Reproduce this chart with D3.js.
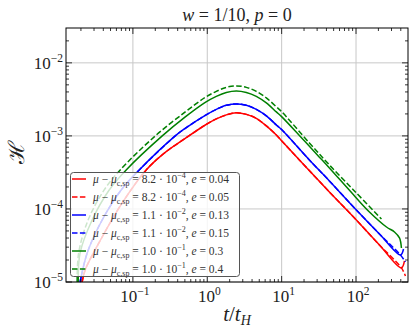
<!DOCTYPE html>
<html lang="en">
<head>
<meta charset="UTF-8">
<title>H vs t/tH</title>
<script src="https://d3js.org/d3.v7.min.js"></script>
<style>
  body { margin: 0; background: #fff; }
</style>
</head>
<body>
<script>
// values (t/t_H, H)
const redT  = [0.0208, 0.0228, 0.0386, 0.0718, 0.151, 0.272, 0.506, 0.94, 1.322, 1.802, 2.456, 3.349, 4.565, 6.225, 8.487, 9.908, 17.31, 43.85, 98.1, 206.5, 408, 448]
const redH  = [1.0e-5, 1.46e-5, 4.13e-5, 1.21e-4, 3.42e-4, 5.94e-4, 9.24e-4, 1.41e-3, 1.71e-3, 1.94e-3, 2.07e-3, 1.97e-3, 1.74e-3, 1.37e-3, 1.03e-3, 8.68e-4, 4.69e-4, 1.71e-4, 7.29e-5, 3.21e-5, 1.56e-5, 1.94e-5]
const redDT = [0.0208, 0.0228, 0.0386, 0.0718, 0.151, 0.272, 0.506, 0.94, 1.322, 1.802, 2.456, 3.349, 4.565, 6.225, 8.487, 9.908, 17.31, 43.85, 98.1, 206.5, 408, 462]
const redDH = [1.0e-5, 1.46e-5, 4.13e-5, 1.21e-4, 3.42e-4, 5.94e-4, 9.24e-4, 1.41e-3, 1.71e-3, 1.94e-3, 2.07e-3, 1.97e-3, 1.74e-3, 1.37e-3, 1.03e-3, 8.68e-4, 4.69e-4, 1.71e-4, 7.29e-5, 3.21e-5, 1.56e-5, 1.21e-5]

const blueT  = [0.0195, 0.0243, 0.0386, 0.0696, 0.1216, 0.371, 0.506, 0.94, 1.322, 1.802, 2.456, 3.349, 4.565, 6.225, 8.487, 9.908, 23.6, 43.85, 98.1, 206.5, 396, 435]
const blueH  = [1.0e-5, 2.50e-5, 7.06e-5, 1.82e-4, 3.42e-4, 1.0e-3, 1.27e-3, 1.91e-3, 2.31e-3, 2.62e-3, 2.74e-3, 2.62e-3, 2.31e-3, 1.88e-3, 1.41e-3, 1.23e-3, 4.69e-4, 2.42e-4, 1.0e-4, 4.55e-5, 2.34e-5, 2.83e-5]
const blueDT = [0.0195, 0.0243, 0.0386, 0.0696, 0.1216, 0.371, 0.506, 0.94, 1.322, 1.802, 2.456, 3.349, 4.565, 6.225, 8.487, 9.908, 23.6, 43.85, 98.1, 206.5, 396, 462]
const blueDH = [1.0e-5, 2.50e-5, 7.06e-5, 1.82e-4, 3.42e-4, 1.0e-3, 1.27e-3, 1.91e-3, 2.31e-3, 2.62e-3, 2.74e-3, 2.62e-3, 2.31e-3, 1.88e-3, 1.41e-3, 1.23e-3, 4.69e-4, 2.42e-4, 1.0e-4, 4.55e-5, 2.34e-5, 1.88e-5]

const greenT  = [0.0184, 0.0195, 0.0283, 0.048, 0.0812, 0.248, 0.506, 0.94, 1.322, 1.802, 2.456, 3.349, 4.565, 6.225, 8.487, 9.908, 17.31, 30.23, 43.85, 98.1, 151.5, 257, 329, 384, 408]
const greenH  = [1.0e-5, 2.50e-5, 7.06e-5, 1.82e-4, 3.42e-4, 1.0e-3, 1.82e-3, 2.88e-3, 3.48e-3, 3.94e-3, 4.13e-3, 3.94e-3, 3.48e-3, 2.83e-3, 2.13e-3, 1.85e-3, 1.016e-3, 5.49e-4, 3.64e-4, 1.46e-4, 9.1e-5, 5.66e-5, 4.84e-5, 4.01e-5, 2.92e-5]
const greenDT = [0.0178, 0.01865, 0.025, 0.0411, 0.0675, 0.200, 0.506, 0.94, 1.322, 1.802, 2.456, 3.349, 4.565, 6.225, 8.487, 9.908, 23.6, 43.85, 98.1, 219.8]
const greenDH = [1.0e-5, 2.50e-5, 7.06e-5, 1.82e-4, 3.42e-4, 1.0e-3, 2.13e-3, 3.37e-3, 4.07e-3, 4.62e-3, 4.84e-3, 4.62e-3, 4.07e-3, 3.32e-3, 2.50e-3, 2.17e-3, 8.0e-4, 4.0e-4, 1.71e-4, 7.29e-5]

const labelMant = ["8.2", "8.2", "1.1", "1.1", "1.0", "1.0"]
const labelExp  = ["−4", "−4", "−2", "−2", "−1", "−1"]
const labelE    = ["0.04", "0.05", "0.13", "0.15", "0.3", "0.4"]

const xMajor = [0.1, 1, 10, 100]
const xMajorExp = ["−1", "0", "1", "2"]
const yMajor = [1e-5, 1e-4, 1e-3, 1e-2]
const yMajorExp = ["−5", "−4", "−3", "−2"]

const width = 415
const height = 333
const pL = 66, pR = 408, pT = 28, pB = 282

const series = [
  { t: redT,    h: redH,    color: "#ff0000", dash: null },
  { t: redDT,   h: redDH,   color: "#ff0000", dash: "5.5,2.4" },
  { t: blueT,   h: blueH,   color: "#0000ff", dash: null },
  { t: blueDT,  h: blueDH,  color: "#0000ff", dash: "5.5,2.4" },
  { t: greenT,  h: greenH,  color: "#008000", dash: null },
  { t: greenDT, h: greenDH, color: "#008000", dash: "5.5,2.4" }
]

const svg = d3.select("body").append("svg")
  .attr("width", width)
  .attr("height", height)
  .attr("font-family", "'Liberation Serif', 'DejaVu Serif', serif")

const x = d3.scaleLog().domain([0.0126, 500]).range([pL, pR])
const y = d3.scaleLog().domain([1e-5, 0.03]).range([pB, pT])

// grid
svg.append("g").selectAll("line").data(xMajor).enter().append("line")
  .attr("x1", d => x(d)).attr("x2", d => x(d))
  .attr("y1", pT).attr("y2", pB)
  .attr("stroke", "#c8c8c8").attr("stroke-width", 1)
svg.append("g").selectAll("line").data(yMajor).enter().append("line")
  .attr("y1", d => y(d)).attr("y2", d => y(d))
  .attr("x1", pL).attr("x2", pR)
  .attr("stroke", "#c8c8c8").attr("stroke-width", 1)

// curves
svg.append("clipPath").attr("id", "clip")
  .append("rect").attr("x", pL).attr("y", pT).attr("width", pR - pL).attr("height", pB - pT + 1)

const line = d3.line()
  .x(d => x(d[0]))
  .y(d => y(d[1]))
  .curve(d3.curveCatmullRom.alpha(0.5))

svg.append("g").attr("clip-path", "url(#clip)")
  .selectAll("path").data(series).enter().append("path")
  .attr("d", s => line(s.t.map((t, i) => [t, s.h[i]])))
  .attr("fill", "none")
  .attr("stroke", s => s.color)
  .attr("stroke-width", 1.5)
  .attr("stroke-dasharray", s => s.dash)

// ticks (inward, all four sides)
const xMinor = []
for (let e = -2; e <= 2; e++) for (let m = 2; m <= 9; m++) {
  const v = m * Math.pow(10, e)
  if (v > 0.0126 && v < 500) xMinor.push(v)
}
const yMinor = []
for (let e = -5; e <= -2; e++) for (let m = 2; m <= 9; m++) {
  const v = m * Math.pow(10, e)
  if (v < 0.03) yMinor.push(v)
}
const ticks = svg.append("g").attr("stroke", "#000").attr("stroke-width", 0.8)
function xTicks(vals, len) {
  vals.forEach(v => {
    ticks.append("line").attr("x1", x(v)).attr("x2", x(v)).attr("y1", pB).attr("y2", pB - len)
    ticks.append("line").attr("x1", x(v)).attr("x2", x(v)).attr("y1", pT).attr("y2", pT + len)
  })
}
function yTicks(vals, len) {
  vals.forEach(v => {
    ticks.append("line").attr("y1", y(v)).attr("y2", y(v)).attr("x1", pL).attr("x2", pL + len)
    ticks.append("line").attr("y1", y(v)).attr("y2", y(v)).attr("x1", pR).attr("x2", pR - len)
  })
}
xTicks(xMajor, 6); xTicks(xMinor, 3)
yTicks(yMajor, 6); yTicks(yMinor, 3)

svg.append("rect")
  .attr("x", pL).attr("y", pT).attr("width", pR - pL).attr("height", pB - pT)
  .attr("fill", "none").attr("stroke", "#000").attr("stroke-width", 1)

// tick labels
xMajor.forEach((v, i) => {
  const t = svg.append("text").attr("x", x(v) + 2).attr("y", 302)
    .attr("text-anchor", "middle").attr("font-size", 17).attr("fill", "#222")
  t.append("tspan").text("10")
  t.append("tspan").attr("dy", -7).attr("font-size", 11.5).text(xMajorExp[i])
})
yMajor.forEach((v, i) => {
  const t = svg.append("text").attr("x", 63).attr("y", y(v) + 6)
    .attr("text-anchor", "end").attr("font-size", 17).attr("fill", "#222")
  t.append("tspan").text("10")
  t.append("tspan").attr("dy", -7).attr("font-size", 11.5).text(yMajorExp[i])
})

// title
const title = svg.append("text").attr("x", 237).attr("y", 21)
  .attr("text-anchor", "middle").attr("font-size", 18).attr("fill", "#222")
title.append("tspan").attr("font-style", "italic").text("w")
title.append("tspan").text(" = 1/10, ")
title.append("tspan").attr("font-style", "italic").text("p")
title.append("tspan").text(" = 0")

// axis labels
const xl = svg.append("text").attr("x", 237).attr("y", 321)
  .attr("text-anchor", "middle").attr("font-size", 21).attr("fill", "#222")
xl.append("tspan").attr("font-style", "italic").text("t")
xl.append("tspan").text("/")
xl.append("tspan").attr("font-style", "italic").text("t")
xl.append("tspan").attr("font-style", "italic").attr("font-size", 14).attr("dy", 4).text("H")

svg.append("text")
  .attr("transform", "translate(24,152) rotate(-90)")
  .attr("text-anchor", "middle").attr("font-size", 22).attr("fill", "#222")
  .attr("font-family", "'DejaVu Serif', serif")
  .text("ℋ")

// legend
const lg = svg.append("g")
lg.append("rect").attr("x", 70.5).attr("y", 172.5).attr("width", 169).attr("height", 104)
  .attr("rx", 3).attr("fill", "#fff").attr("fill-opacity", 0.8)
  .attr("stroke", "#555").attr("stroke-width", 1)
series.forEach((s, i) => {
  const ry = 179 + i * 18
  lg.append("line").attr("x1", 72).attr("x2", 86).attr("y1", ry).attr("y2", ry)
    .attr("stroke", s.color).attr("stroke-width", 1.5).attr("stroke-dasharray", s.dash)
  const t = lg.append("text").attr("x", 93).attr("y", ry + 4)
    .attr("font-size", 11.5).attr("fill", "#333")
  t.append("tspan").attr("font-style", "italic").text("μ")
  t.append("tspan").text(" − ")
  t.append("tspan").attr("font-style", "italic").text("μ")
  t.append("tspan").attr("font-size", 8).attr("dy", 3).text("c,sp")
  t.append("tspan").attr("dy", -3).text(" = " + labelMant[i] + " · 10")
  t.append("tspan").attr("font-size", 8).attr("dy", -5).text(labelExp[i])
  t.append("tspan").attr("dy", 5).text(", ")
  t.append("tspan").attr("font-style", "italic").text("e")
  t.append("tspan").text(" = " + labelE[i])
})
</script>
</body>
</html>
